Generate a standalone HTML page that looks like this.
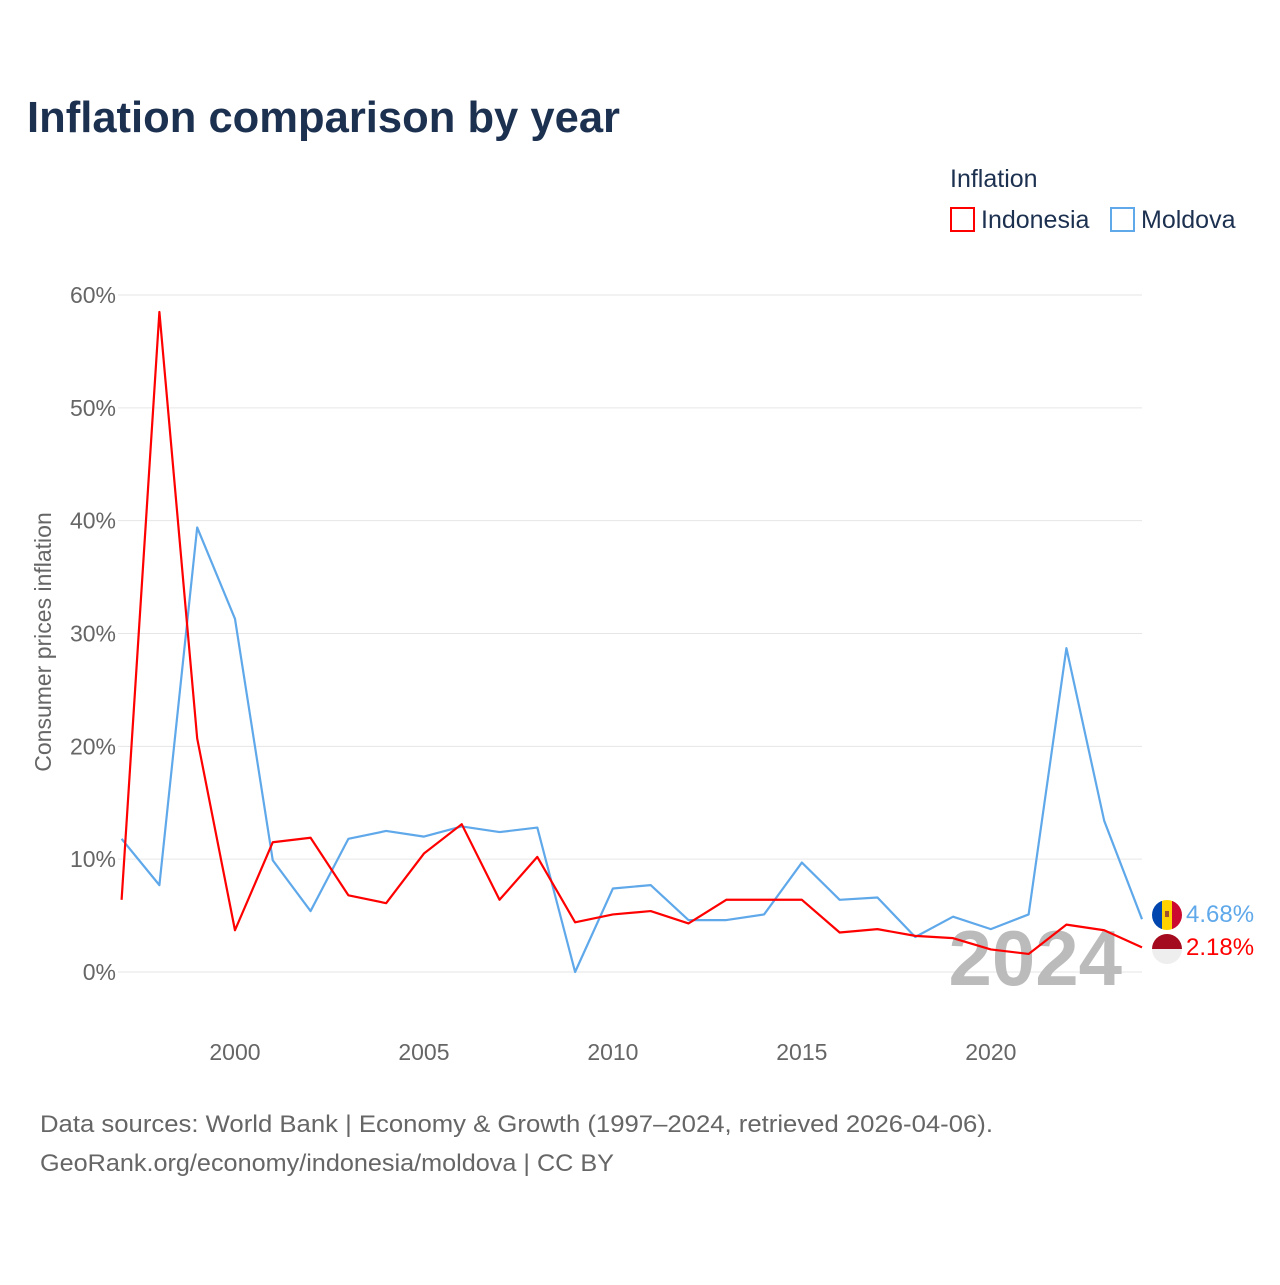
<!DOCTYPE html>
<html><head><meta charset="utf-8">
<style>
body{margin:0;background:#fff;width:1280px;height:1280px;overflow:hidden;font-family:"Liberation Sans",sans-serif;}
</style></head>
<body>
<svg id="chart" width="1280" height="1280" xmlns="http://www.w3.org/2000/svg" font-family="Liberation Sans, sans-serif">
<text x="27" y="132" font-size="44" font-weight="bold" fill="#1c3050" textLength="593" lengthAdjust="spacingAndGlyphs">Inflation comparison by year</text>
<text x="950" y="187" font-size="25" fill="#1c3050">Inflation</text>
<g>
<rect x="951" y="208" width="23" height="23" fill="none" stroke="#ff0000" stroke-width="2"/>
<text x="981" y="228" font-size="25" fill="#1c3050">Indonesia</text></g>
<g>
<rect x="1111" y="208" width="23" height="23" fill="none" stroke="#5fa8ea" stroke-width="2"/>
<text x="1141" y="228" font-size="25" fill="#1c3050">Moldova</text></g>
<text transform="translate(51,642) rotate(-90)" text-anchor="middle" font-size="23" fill="#666">Consumer prices inflation</text>
<g id="grid"></g><g id="ticks"></g>
<text x="1122" y="985" text-anchor="end" font-size="78" font-weight="bold" fill="#bbb">2024</text>
<g id="series"></g>
<g>
<clipPath id="cm"><circle cx="1167" cy="915" r="15"/></clipPath>
<g clip-path="url(#cm)"><rect x="1152" y="900" width="10" height="30" fill="#0046ae"/><rect x="1162" y="900" width="10" height="30" fill="#ffd200"/><rect x="1172" y="900" width="10" height="30" fill="#cc092f"/><rect x="1165" y="911" width="4" height="6" fill="#a0522d"/></g></g>
<g>
<clipPath id="ci"><circle cx="1167" cy="949" r="15"/></clipPath>
<g clip-path="url(#ci)"><rect x="1152" y="934" width="30" height="15" fill="#a50b1e"/><rect x="1152" y="949" width="30" height="15" fill="#eee"/></g></g>
<text x="1186" y="922" font-size="24" fill="#5fa8ea">4.68%</text>
<text x="1186" y="955" font-size="24" fill="#ff0000">2.18%</text>
<text x="40" y="1132" font-size="24" fill="#666" textLength="953" lengthAdjust="spacingAndGlyphs">Data sources: World Bank | Economy &amp; Growth (1997–2024, retrieved 2026-04-06).</text>
<text x="40" y="1171" font-size="24" fill="#666" textLength="574" lengthAdjust="spacingAndGlyphs">GeoRank.org/economy/indonesia/moldova | CC BY</text>
</svg>
<script>
const years=[1997,1998,1999,2000,2001,2002,2003,2004,2005,2006,2007,2008,2009,2010,2011,2012,2013,2014,2015,2016,2017,2018,2019,2020,2021,2022,2023,2024];
const indonesia=[6.4,58.5,20.7,3.7,11.5,11.9,6.8,6.1,10.5,13.1,6.4,10.2,4.4,5.1,5.4,4.3,6.4,6.4,6.4,3.5,3.8,3.2,3.0,2.0,1.6,4.2,3.7,2.18];
const moldova=[11.8,7.7,39.4,31.3,9.9,5.4,11.8,12.5,12.0,12.9,12.4,12.8,0.0,7.4,7.7,4.6,4.6,5.1,9.7,6.4,6.6,3.1,4.9,3.8,5.1,28.7,13.4,4.68];
const yTicks=[0,10,20,30,40,50,60];
const xTicks=[2000,2005,2010,2015,2020];
const NS="http://www.w3.org/2000/svg";
const x=v=>121.6+(v-1997)*(1142-121.6)/27;
const y=v=>972-v*(972-295)/60;
const grid=document.getElementById('grid'),ticks=document.getElementById('ticks'),series=document.getElementById('series');
yTicks.forEach(t=>{
 const l=document.createElementNS(NS,'line');
 
 
 l.setAttribute('x1',118);l.setAttribute('x2',1142);l.setAttribute('y1',y(t));l.setAttribute('y2',y(t));
 l.setAttribute('stroke','#e6e6e6');l.setAttribute('stroke-width','1');grid.appendChild(l);
 const tx=document.createElementNS(NS,'text');
 
 
 tx.setAttribute('x',116);tx.setAttribute('y',y(t)+8);tx.setAttribute('text-anchor','end');
 tx.setAttribute('font-size','23');tx.setAttribute('fill','#666');tx.textContent=t+'%';ticks.appendChild(tx);
});
xTicks.forEach(t=>{
 const tx=document.createElementNS(NS,'text');
 
 
 tx.setAttribute('x',x(t));tx.setAttribute('y',1060);tx.setAttribute('text-anchor','middle');
 tx.setAttribute('font-size','23');tx.setAttribute('fill','#666');tx.textContent=t;ticks.appendChild(tx);
});
function line(vals,color,name){
 const p=document.createElementNS(NS,'polyline');
 
 
 p.setAttribute('points',vals.map((v,i)=>x(years[i])+','+y(v)).join(' '));
 p.setAttribute('fill','none');p.setAttribute('stroke',color);p.setAttribute('stroke-width','2.2');p.setAttribute('stroke-linejoin','round');
 series.appendChild(p);
}
line(moldova,'#5fa8ea','line-moldova');
line(indonesia,'#ff0000','line-indonesia');
</script>
</body></html>
